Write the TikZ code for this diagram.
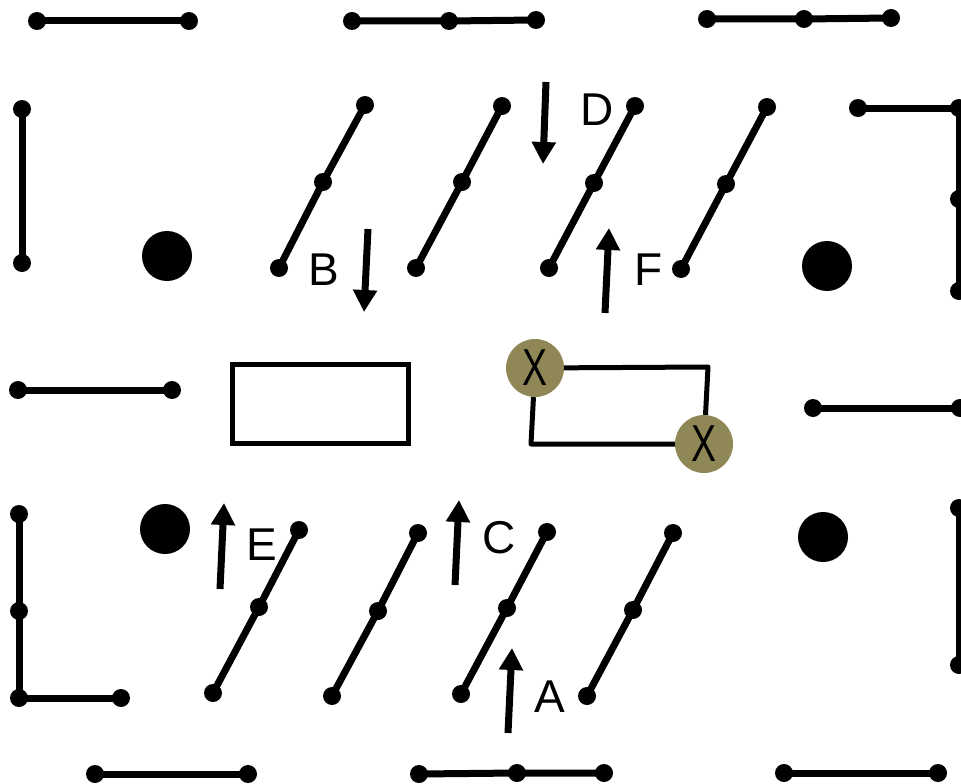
\documentclass[tikz,border=0pt]{standalone}
\usepackage{fontspec}
\setmainfont{Liberation Sans}
\usetikzlibrary{arrows.meta}
\definecolor{olive}{RGB}{143,135,86}
\begin{document}
\begin{tikzpicture}[x=1pt,y=-1pt,
  dot/.style={circle,fill=black,inner sep=0pt,minimum size=18pt},
  bigdot/.style={circle,fill=black,inner sep=0pt,minimum size=50pt},
  seg/.style={line width=7pt},
  arr/.style={line width=7pt,-{Triangle[width=23pt,length=22pt]}},
  lab/.style={inner sep=0pt,font=\fontsize{46}{46}\selectfont},
  xnode/.style={circle,fill=olive,inner sep=0pt,minimum size=58pt,font=\fontsize{52}{52}\selectfont},
  wire/.style={line width=5pt,line join=round},
  boxst/.style={draw,line width=5pt,inner sep=0pt,minimum width=176pt,minimum height=79pt}
]
\useasboundingbox (0,0) rectangle (961,784);
\fill[white] (0,0) rectangle (961,784);

% top row
\node[dot] (t1a) at (37,21) {};
\node[dot] (t1b) at (189,21) {};
\draw[seg] (t1a.center) -- (t1b.center);
\node[dot] (t2a) at (352,21) {};
\node[dot] (t2b) at (449,21) {};
\node[dot] (t2c) at (536,20) {};
\draw[seg] (t2a.center) -- (t2b.center) -- (t2c.center);
\node[dot] (t3a) at (707,19) {};
\node[dot] (t3b) at (804,19) {};
\node[dot] (t3c) at (891,18) {};
\draw[seg] (t3a.center) -- (t3b.center) -- (t3c.center);

% left vertical
\node[dot] (v1a) at (22,109) {};
\node[dot] (v1b) at (22,263) {};
\draw[seg] (v1a.center) -- (v1b.center);

% upper diagonals
\node[dot] (d1a) at (279,268) {};
\node[dot] (d1b) at (323,182) {};
\node[dot] (d1c) at (365,105) {};
\draw[seg] (d1a.center) -- (d1b.center) -- (d1c.center);
\node[dot] (d2a) at (416,268) {};
\node[dot] (d2b) at (462,182) {};
\node[dot] (d2c) at (502,106) {};
\draw[seg] (d2a.center) -- (d2b.center) -- (d2c.center);
\node[dot] (d3a) at (549,268) {};
\node[dot] (d3b) at (594,183) {};
\node[dot] (d3c) at (635,106) {};
\draw[seg] (d3a.center) -- (d3b.center) -- (d3c.center);
\node[dot] (d4a) at (681,269) {};
\node[dot] (d4b) at (726,184) {};
\node[dot] (d4c) at (767,107) {};
\draw[seg] (d4a.center) -- (d4b.center) -- (d4c.center);

% right top L
\node[dot] (r1a) at (858,108) {};
\node[dot] (r1b) at (959,108) {};
\node[dot] (r1c) at (959,199) {};
\node[dot] (r1d) at (959,291) {};
\draw[seg] (r1a.center) -- (r1b.center) -- (r1c.center) -- (r1d.center);

% big dots
\node[bigdot] (bd1) at (167,256) {};
\node[bigdot] (bd2) at (827,266) {};
\node[bigdot] (bd3) at (165,529) {};
\node[bigdot] (bd4) at (823,537) {};

% middle horizontals
\node[dot] (h1a) at (18,390) {};
\node[dot] (h1b) at (172,390) {};
\draw[seg] (h1a.center) -- (h1b.center);
\node[dot] (h2a) at (813,408) {};
\node[dot] (h2b) at (960,408) {};
\draw[seg] (h2a.center) -- (h2b.center);

% rectangle
\node[boxst] (box) at (320,403.5) {};

% circuit with X
\node[xnode] (X1) at (535,368) {\scalebox{0.72}[1]{X}};
\node[xnode] (X2) at (704,444) {\scalebox{0.72}[1]{X}};
\coordinate (c1) at (708,367);
\coordinate (c2) at (531,444);
\draw[wire] (X1) -- (c1) -- (X2);
\draw[wire] (X1) -- (c2) -- (X2);

% lower left L
\node[dot] (l1a) at (19,514) {};
\node[dot] (l1b) at (19,611) {};
\node[dot] (l1c) at (19,698) {};
\node[dot] (l1d) at (121,698) {};
\draw[seg] (l1a.center) -- (l1b.center) -- (l1c.center) -- (l1d.center);

% lower diagonals
\node[dot] (d5a) at (213,693) {};
\node[dot] (d5b) at (259,607) {};
\node[dot] (d5c) at (299,530) {};
\draw[seg] (d5a.center) -- (d5b.center) -- (d5c.center);
\node[dot] (d6a) at (332,696) {};
\node[dot] (d6b) at (378,611) {};
\node[dot] (d6c) at (418,533) {};
\draw[seg] (d6a.center) -- (d6b.center) -- (d6c.center);
\node[dot] (d7a) at (461,694) {};
\node[dot] (d7b) at (507,608) {};
\node[dot] (d7c) at (547,532) {};
\draw[seg] (d7a.center) -- (d7b.center) -- (d7c.center);
\node[dot] (d8a) at (587,696) {};
\node[dot] (d8b) at (633,610) {};
\node[dot] (d8c) at (673,533) {};
\draw[seg] (d8a.center) -- (d8b.center) -- (d8c.center);

% right lower vertical
\node[dot] (r2a) at (959,508) {};
\node[dot] (r2b) at (959,665) {};
\draw[seg] (r2a.center) -- (r2b.center);

% bottom row
\node[dot] (b1a) at (95,774) {};
\node[dot] (b1b) at (248,774) {};
\draw[seg] (b1a.center) -- (b1b.center);
\node[dot] (b2a) at (419,774) {};
\node[dot] (b2b) at (517,773) {};
\node[dot] (b2c) at (604,773) {};
\draw[seg] (b2a.center) -- (b2b.center) -- (b2c.center);
\node[dot] (b3a) at (784,773) {};
\node[dot] (b3b) at (938,773) {};
\draw[seg] (b3a.center) -- (b3b.center);

% arrows
\coordinate (Bs) at (368,229); \coordinate (Be) at (364,312);
\draw[arr] (Bs) -- (Be);
\coordinate (Ds) at (546,82); \coordinate (De) at (543,164);
\draw[arr] (Ds) -- (De);
\coordinate (Fs) at (605,313); \coordinate (Fe) at (609,228);
\draw[arr] (Fs) -- (Fe);
\coordinate (Es) at (220,589); \coordinate (Ee) at (224,503);
\draw[arr] (Es) -- (Ee);
\coordinate (Cs) at (455,585); \coordinate (Ce) at (459,500);
\draw[arr] (Cs) -- (Ce);
\coordinate (As) at (508,733); \coordinate (Ae) at (512,648);
\draw[arr] (As) -- (Ae);

% labels
\node[lab] (LB) at (324,270) {B};
\node[lab] (LD) at (597,110) {D};
\node[lab] (LF) at (649,270) {F};
\node[lab] (LE) at (262,545) {E};
\node[lab] (LC) at (499,538) {C};
\node[lab] (LA) at (550,697) {A};
\end{tikzpicture}
\end{document}
